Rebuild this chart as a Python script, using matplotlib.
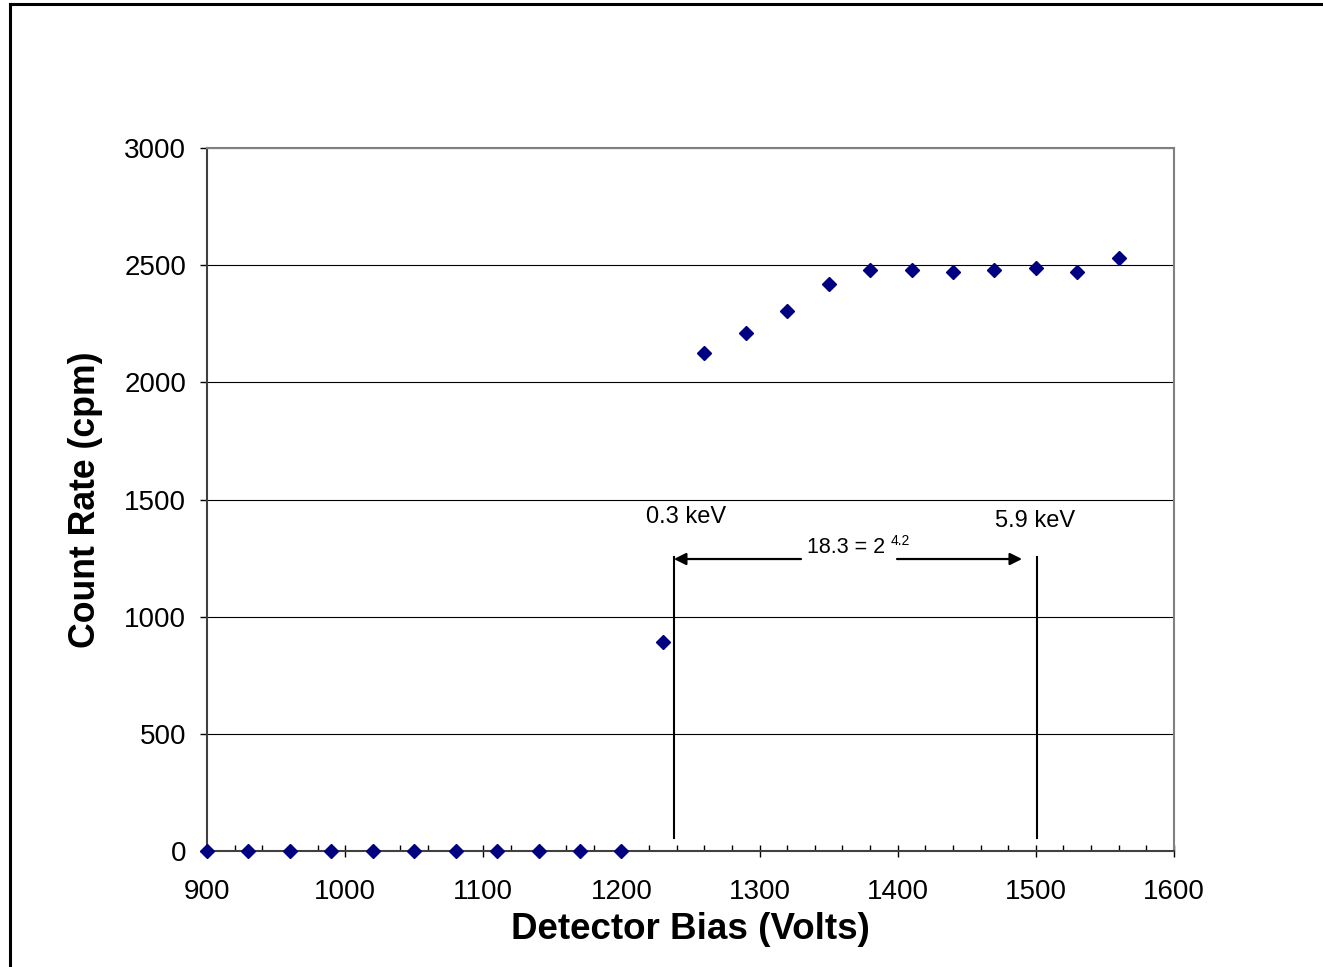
import matplotlib
matplotlib.use("Agg")
import matplotlib.pyplot as plt
import matplotlib.ticker as ticker
from matplotlib.lines import Line2D

# Data
bias_volts = [900, 930, 960, 990, 1020, 1050, 1080, 1110, 1140, 1170, 1200,
              1230, 1260, 1290, 1320, 1350, 1380, 1410, 1440, 1470, 1500, 1530, 1560]
count_rate = [0, 0, 0, 0, 0, 0, 0, 0, 0, 0, 0,
              892, 2125, 2210, 2303, 2420, 2478, 2478, 2470, 2478, 2487, 2470, 2530]

# Energy markers (bias at which 0.3 keV and 5.9 keV start counting)
marker_bias = [1238, 1501]
marker_labels = ["0.3 keV", "5.9 keV"]
marker_range = [55, 1255]
ratio_text = "18.3 = 2"
ratio_exp = "4.2"

plt.rcParams['font.family'] = ['Liberation Sans', 'DejaVu Sans']

fig = plt.figure(figsize=(13.23, 9.67), dpi=100)
ax = fig.add_axes([207 / 1323, 116 / 967, 967 / 1323, 703 / 967])

# Frame lines around the figure (top and left only)
fig.add_artist(Line2D([10 / 1323, 1], [963 / 967, 963 / 967], transform=fig.transFigure,
                      color="black", lw=2.2))
fig.add_artist(Line2D([10 / 1323, 10 / 1323], [0, 963 / 967], transform=fig.transFigure,
                      color="black", lw=2.2))

ax.plot(bias_volts, count_rate, linestyle="none", marker="D", markersize=7.5,
        color="#000080", clip_on=False, zorder=5)

ax.set_xlim(900, 1600)
ax.set_ylim(0, 3000)
ax.xaxis.set_major_locator(ticker.MultipleLocator(100))
ax.xaxis.set_minor_locator(ticker.MultipleLocator(20))
ax.yaxis.set_major_locator(ticker.MultipleLocator(500))

ax.tick_params(axis="x", which="major", direction="inout", length=8.6, width=1,
               labelsize=20, pad=16)
ax.tick_params(axis="x", which="minor", direction="in", length=4.3, width=1)
ax.tick_params(axis="y", which="major", direction="out", length=5, width=1,
               labelsize=20, pad=10)

ax.grid(axis="y", color="black", linewidth=0.8)
ax.set_axisbelow(True)

for side in ["top", "right"]:
    ax.spines[side].set_color("#808080")
    ax.spines[side].set_linewidth(1.5)
for side in ["left", "bottom"]:
    ax.spines[side].set_color("#404040")
    ax.spines[side].set_linewidth(1.5)

ax.set_xlabel("Detector Bias (Volts)", fontsize=26.5, fontweight="bold")
ax.set_ylabel("Count Rate (cpm)", fontsize=25.7, fontweight="bold")
ax.xaxis.set_label_coords(0.5, -0.087)
ax.yaxis.set_label_coords(-0.1075, 0.5)

# Energy markers and span arrows
for xb, lab, tx, ty in zip(marker_bias, marker_labels, [1247, 1499.5], [1400, 1381]):
    ax.plot([xb, xb], marker_range, color="black", lw=1.5)
    ax.text(tx, ty, lab, fontsize=17, ha="center", va="baseline")

ax.annotate("", xy=(marker_bias[0], 1246), xytext=(1330, 1246),
            arrowprops=dict(arrowstyle="-|>", color="black", lw=1.6,
                            shrinkA=0, shrinkB=0, mutation_scale=18))
ax.annotate("", xy=(1490, 1246), xytext=(1399.5, 1246),
            arrowprops=dict(arrowstyle="-|>", color="black", lw=1.6,
                            shrinkA=0, shrinkB=0, mutation_scale=18))
ax.text(1390.8, 1272, ratio_text, fontsize=15.5, ha="right", va="baseline")
ax.text(1395, 1306, ratio_exp, fontsize=10, ha="left", va="baseline")

fig.savefig("out.png", dpi=100)
